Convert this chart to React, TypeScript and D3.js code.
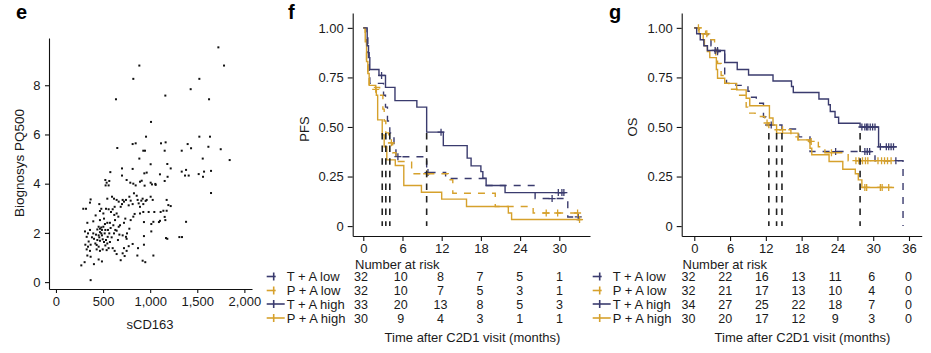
import React, { useEffect, useRef } from 'react';
import * as d3 from 'd3';

// panel e: sCD163 vs Biognosys PQ500
const scatterPoints: [number, number][] = [
  [1724, 9.54], [1784, 8.8], [885, 8.8], [821, 8.26], [1522, 8.26], [1430, 7.84], [1161, 7.58], [637, 7.43], [1625, 7.43],
  [1009, 6.51], [956, 5.91], [1522, 5.91], [1635, 5.91], [651, 5.45], [814, 5.61], [846, 5.64], [1115, 5.64], [1164, 5.68],
  [927, 5.34], [945, 5.34], [1154, 5.34], [1335, 5.34], [1398, 5.61], [1434, 5.44], [1618, 5.5], [1749, 5.4], [1558, 5.02],
  [1844, 4.96], [885, 5.02], [1005, 4.79], [1182, 4.8], [1218, 4.62], [701, 4.62], [814, 4.6], [577, 4.47], [963, 4.45],
  [938, 4.42], [1335, 4.49], [1381, 4.56], [1515, 4.39], [1572, 4.49], [1646, 4.52], [1104, 4.38], [1370, 4.33], [1409, 4.33],
  [1561, 4.28], [701, 4.33], [910, 4.12], [892, 4.08], [1005, 4.04], [1019, 3.97], [1055, 3.99], [1154, 4.11], [524, 4.15],
  [538, 4.04], [566, 4.11], [527, 3.93], [559, 3.93], [750, 4.15], [789, 4.04], [821, 4.0], [846, 3.93], [941, 3.92],
  [1058, 3.95], [1646, 3.62], [1185, 4.28],
  [368, 3.36], [361, 3.23], [290, 2.98], [319, 2.98], [460, 3.17], [545, 3.39], [595, 3.47], [616, 3.39], [644, 3.34],
  [666, 3.27], [708, 3.34], [722, 3.27], [743, 3.34], [779, 3.47], [793, 3.31], [828, 3.61], [857, 3.51], [867, 3.34],
  [878, 3.2], [906, 3.31], [920, 3.39], [963, 3.34], [1005, 3.47], [1027, 3.34], [1175, 3.34], [1193, 3.13], [1175, 2.9],
  [1218, 3.09], [1140, 2.9], [1111, 2.85], [927, 3.17], [892, 3.06], [814, 3.17], [772, 3.12], [701, 3.17], [687, 3.06],
  [623, 3.06], [559, 2.96], [531, 2.98], [481, 2.98], [467, 2.89], [584, 2.85], [602, 2.96], [619, 2.73], [644, 2.79],
  [662, 2.66], [503, 2.79], [421, 2.71], [510, 2.58], [467, 2.52], [396, 2.47], [333, 2.41], [453, 2.25], [439, 2.14],
  [481, 2.22], [520, 2.36], [545, 2.41], [573, 2.41], [627, 2.52], [666, 2.25], [680, 2.31], [722, 2.41], [736, 2.58],
  [793, 2.52], [821, 2.66], [835, 2.77], [892, 2.79], [927, 2.85], [984, 2.85], [1044, 2.85], [934, 2.44], [1012, 2.36],
  [1034, 2.45], [1104, 2.49], [1161, 2.52], [1154, 2.65], [1093, 2.44], [952, 3.3],
  [779, 2.17], [754, 1.98], [743, 1.84], [708, 1.9], [673, 1.93], [644, 2.09], [616, 1.98], [591, 1.82], [566, 1.98],
  [549, 1.84], [531, 1.71], [510, 1.63], [496, 1.74], [481, 1.98], [467, 2.03], [453, 1.9], [439, 1.71], [418, 1.57],
  [396, 1.98], [382, 1.82], [361, 2.12], [340, 1.98], [308, 2.06], [326, 1.84], [347, 1.65], [368, 1.52], [312, 1.52],
  [326, 1.33], [340, 1.44], [333, 1.08], [368, 1.03], [304, 0.81], [269, 0.68], [403, 0.73], [453, 0.92], [488, 0.84],
  [467, 1.68], [524, 1.49], [559, 1.38], [602, 1.38], [623, 1.27], [644, 1.14], [538, 1.3], [496, 1.33], [453, 1.44],
  [432, 1.51], [722, 1.38], [772, 1.46], [750, 1.76], [814, 1.55], [871, 1.38], [934, 1.52], [750, 1.27], [708, 1.17],
  [729, 1.06], [687, 0.89], [864, 1.08], [920, 0.87], [948, 0.81], [1034, 1.08], [934, 1.87], [1012, 2.06], [1168, 1.79],
  [1182, 1.76], [1310, 1.83], [1338, 1.83], [1381, 2.45], [368, 0.08],
  [404, 1.76], [425, 1.93], [460, 1.82], [488, 1.9], [517, 1.98], [524, 2.12], [488, 2.12], [467, 2.17], [503, 2.25],
  [552, 2.12], [580, 2.2], [609, 2.31], [630, 2.12], [658, 1.71], [573, 1.63], [545, 1.57], [432, 1.33], [467, 1.27], [361, 1.27],
];

const scatterXTicks = [0, 500, 1000, 1500, 2000];
const scatterYTicks = [0, 2, 4, 6, 8];

// panel f: PFS step curves (time in months, survival), last point = end of follow-up
const pfsTaLow: [number, number][] = [[0, 1], [0.4, 0.97], [0.7, 0.875], [0.9, 0.78], [1.0, 0.72], [3.1, 0.66], [3.4, 0.6], [3.7, 0.53], [4.06, 0.47], [4.7, 0.41], [5.0, 0.35], [9.7, 0.27], [12.6, 0.24], [18.6, 0.205], [26.3, 0.139], [31.3, 0.046], [33.0, 0.046]];
const pfsPaLow: [number, number][] = [[0, 1], [0.3, 0.94], [0.5, 0.84], [0.7, 0.75], [0.9, 0.7], [2.5, 0.66], [3.0, 0.59], [3.2, 0.53], [3.45, 0.47], [3.9, 0.42], [4.5, 0.37], [5.0, 0.326], [7.4, 0.264], [13.0, 0.234], [13.7, 0.166], [20.2, 0.099], [26.0, 0.066], [33.0, 0.066]];
const pfsTaHigh: [number, number][] = [[0, 1], [0.6, 0.91], [0.8, 0.85], [1.0, 0.79], [2.4, 0.76], [3.4, 0.7], [4.85, 0.633], [8.2, 0.6], [9.7, 0.474], [12.25, 0.406], [15.9, 0.343], [16.5, 0.304], [18.0, 0.275], [18.3, 0.242], [18.8, 0.205], [21.7, 0.169], [30.9, 0.169]];
const pfsPaHigh: [number, number][] = [[0, 1], [0.3, 0.93], [0.5, 0.83], [0.7, 0.77], [0.9, 0.71], [1.9, 0.69], [2.0, 0.66], [2.2, 0.536], [2.9, 0.46], [3.2, 0.4], [3.6, 0.334], [4.9, 0.306], [6.2, 0.205], [8.9, 0.171], [12.0, 0.136], [15.8, 0.099], [22.2, 0.066], [22.7, 0.033], [33.5, 0.033]];

const pfsTaLowCensor: [number, number][] = [[5.3, 0.35], [9.9, 0.27], [28.9, 0.139], [32.9, 0.046]];
const pfsPaLowCensor: [number, number][] = [[4.3, 0.42], [9.7, 0.264], [28.0, 0.066], [29.75, 0.066], [32.8, 0.066]];
const pfsTaHighCensor: [number, number][] = [[2.8, 0.76], [11.9, 0.474], [29.85, 0.169], [30.4, 0.169], [30.7, 0.169]];
const pfsPaHighCensor: [number, number][] = [[1.9, 0.69], [33.1, 0.033]];

const pfsMedians = [2.9, 3.45, 4.06, 9.7];

const pfsRiskTaLow = [32, 10, 8, 7, 5, 1];
const pfsRiskPaLow = [32, 10, 7, 5, 3, 1];
const pfsRiskTaHigh = [33, 20, 13, 8, 5, 3];
const pfsRiskPaHigh = [30, 9, 4, 3, 1, 1];

// panel g: OS
const osTaLow: [number, number][] = [[0, 1], [0.8, 0.97], [2.3, 0.94], [2.8, 0.91], [3.6, 0.88], [5.1, 0.76], [5.4, 0.72], [7.0, 0.71], [9.0, 0.68], [9.6, 0.65], [10.4, 0.62], [11.6, 0.55], [12.0, 0.51], [14.7, 0.49], [17.5, 0.45], [19.4, 0.376], [30.3, 0.33], [35.0, 0], [35.0, 0]];
const osPaLow: [number, number][] = [[0, 1], [1.9, 0.97], [2.2, 0.94], [3.4, 0.91], [3.6, 0.85], [3.9, 0.82], [4.5, 0.76], [5.1, 0.72], [5.8, 0.69], [7.6, 0.66], [8.7, 0.6], [9.0, 0.57], [10.2, 0.553], [11.8, 0.52], [12.5, 0.486], [16.2, 0.45], [17.4, 0.435], [19.2, 0.427], [20.8, 0.4], [21.9, 0.37], [25.8, 0.33], [33.9, 0.33]];
const osTaHigh: [number, number][] = [[0, 1], [0.4, 0.97], [1.0, 0.94], [1.6, 0.91], [2.2, 0.886], [5.1, 0.825], [7.2, 0.79], [9.1, 0.762], [13.2, 0.732], [16.3, 0.704], [16.6, 0.674], [20.9, 0.641], [22.5, 0.612], [22.8, 0.578], [23.6, 0.549], [24.2, 0.519], [27.8, 0.5], [30.9, 0.4], [33.9, 0.4]];
const osPaHigh: [number, number][] = [[0, 1], [0.8, 0.97], [1.5, 0.94], [1.7, 0.91], [2.2, 0.88], [2.6, 0.85], [3.7, 0.79], [3.9, 0.746], [5.1, 0.72], [7.1, 0.687], [8.7, 0.645], [9.3, 0.607], [12.6, 0.545], [13.2, 0.51], [13.8, 0.469], [17.4, 0.435], [19.4, 0.393], [19.7, 0.36], [22.6, 0.326], [24.9, 0.287], [27.0, 0.264], [27.5, 0.233], [28.1, 0.195], [33.5, 0.195]];

const osTaLowCensor: [number, number][] = [[3.9, 0.88], [12.9, 0.51], [23.7, 0.376], [28.6, 0.376], [29.0, 0.376], [29.4, 0.376], [33.8, 0.33]];
const osPaLowCensor: [number, number][] = [[2.1, 0.97], [12.2, 0.52], [14.8, 0.486], [19.6, 0.427], [23.0, 0.37], [27.1, 0.33], [27.6, 0.33], [28.2, 0.33], [28.7, 0.33], [29.1, 0.33], [30.8, 0.33], [31.4, 0.33], [31.9, 0.33], [32.4, 0.33], [33.0, 0.33]];
const osTaHighCensor: [number, number][] = [[3.5, 0.886], [3.9, 0.886], [28.1, 0.5], [28.6, 0.5], [28.9, 0.5], [29.1, 0.5], [29.5, 0.5], [29.9, 0.5], [30.3, 0.5], [31.2, 0.4], [32.2, 0.4], [32.6, 0.4], [33.0, 0.4], [33.4, 0.4]];
const osPaHighCensor: [number, number][] = [[0.7, 1], [28.6, 0.195], [28.9, 0.195], [31.2, 0.195], [31.5, 0.195], [32.6, 0.195]];

const osMedians = [12.5, 13.8, 14.7, 27.8];

const osRiskTaLow = [32, 22, 16, 13, 11, 6, 0];
const osRiskPaLow = [32, 21, 17, 13, 10, 4, 0];
const osRiskTaHigh = [34, 27, 25, 22, 18, 7, 0];
const osRiskPaHigh = [30, 20, 17, 12, 9, 3, 0];

const groupNames = ['T + A low', 'P + A low', 'T + A high', 'P + A high'];
const NAVY = '#3a3b6e';
const GOLD = '#d6a12c';
const groupColors = [NAVY, GOLD, NAVY, GOLD];
const groupDashed = [true, true, false, false];

const FONT = "'Liberation Sans', Arial, Helvetica, sans-serif";
const TXT = '#1a1a1a';

const styleAxis = (g: any) => {
  g.selectAll('path.domain').attr('stroke', '#111').attr('stroke-width', 1.1);
  g.selectAll('.tick line').attr('stroke', '#111').attr('stroke-width', 1.1);
  g.selectAll('.tick text').attr('fill', TXT).style('font-family', FONT).style('font-size', '13px');
};

const drawKm = (svg: any, cfg: any) => {
  const x = d3.scaleLinear().domain(cfg.xDomain).range(cfg.xRange);
  const y = d3.scaleLinear().domain([-0.05, 1.075]).range([236, 13]);
  const tx = d3.scaleLinear().domain([0, cfg.ticks[cfg.ticks.length - 1]]).range(cfg.tableRange);

  const gx = svg.append('g').attr('transform', 'translate(0,236)')
    .call(d3.axisBottom(x).tickValues(cfg.ticks).tickSize(5).tickSizeOuter(0).tickPadding(2.5));
  styleAxis(gx);
  const gy = svg.append('g').attr('transform', `translate(${cfg.xRange[0]},0)`)
    .call(d3.axisLeft(y).tickValues([0, 0.25, 0.5, 0.75, 1]).tickSize(5).tickSizeOuter(0).tickPadding(4)
      .tickFormat((d: any) => (d === 0 ? '0' : d3.format('.2f')(d))));
  styleAxis(gy);

  svg.append('text')
    .attr('transform', `translate(${cfg.yLabelX},${cfg.yLabelY}) rotate(-90)`)
    .attr('text-anchor', 'middle').attr('dy', '0.35em')
    .style('font-family', FONT).style('font-size', '13px').attr('fill', TXT)
    .text(cfg.yLabel);

  const line = d3.line<[number, number]>().x(d => x(d[0])).y(d => y(d[1])).curve(d3.curveStepAfter);

  const order = [0, 1, 3, 2];
  order.forEach(i => {
    svg.append('path').datum(cfg.curves[i])
      .attr('fill', 'none').attr('stroke', groupColors[i]).attr('stroke-width', 1.4)
      .attr('stroke-dasharray', groupDashed[i] ? '7,7' : null)
      .attr('d', line);
    svg.append('g').selectAll('path').data(cfg.censors[i]).enter().append('path')
      .attr('d', (d: [number, number]) => `M${x(d[0]) - 3.5},${y(d[1])}h7M${x(d[0])},${y(d[1]) - 3.5}v7`)
      .attr('stroke', groupColors[i]).attr('stroke-width', 1.3);
  });

  svg.append('g').selectAll('line').data(cfg.medians).enter().append('line')
    .attr('x1', (d: number) => x(d)).attr('x2', (d: number) => x(d))
    .attr('y1', y(0.5)).attr('y2', y(0))
    .attr('stroke', '#222').attr('stroke-width', 1.6).attr('stroke-dasharray', '0,6,6.5,0.1');

  // risk table
  const tfs = '12.5px';
  svg.append('text').attr('x', cfg.tableRange[0] - 6).attr('y', 268.5)
    .style('font-family', FONT).style('font-size', '13px').attr('fill', TXT).text('Number at risk');
  const rowY = [281, 295, 308.5, 322.5];
  cfg.risk.forEach((row: number[], i: number) => {
    svg.append('text').attr('x', cfg.labelX).attr('y', rowY[i])
      .style('font-family', FONT).style('font-size', '13px').attr('fill', TXT).text(groupNames[i]);
    const ky = rowY[i] - 4.5;
    const kx0 = cfg.labelX - 20;
    svg.append('line').attr('x1', kx0).attr('x2', kx0 + (groupDashed[i] ? 9 : 18)).attr('y1', ky).attr('y2', ky)
      .attr('stroke', groupColors[i]).attr('stroke-width', 1.6);
    svg.append('line').attr('x1', kx0 + 7).attr('x2', kx0 + 7).attr('y1', ky - 4).attr('y2', ky + 4)
      .attr('stroke', groupColors[i]).attr('stroke-width', 1.6);
    svg.append('g').selectAll('text').data(row).enter().append('text')
      .attr('x', (_: number, j: number) => tx(cfg.ticks[j])).attr('y', rowY[i])
      .attr('text-anchor', 'middle')
      .style('font-family', FONT).style('font-size', tfs).attr('fill', TXT)
      .text((d: number) => d);
  });
  svg.append('text').attr('x', cfg.titleX).attr('y', 341.5).attr('text-anchor', 'middle')
    .style('font-family', FONT).style('font-size', '13px').attr('fill', TXT)
    .text('Time after C2D1 visit (months)');

  svg.append('text').attr('x', cfg.panelX).attr('y', 19)
    .style('font-family', FONT).style('font-size', '20px').style('font-weight', 'bold').attr('fill', '#000')
    .text(cfg.panel);
};

export default function App() {
  const ref = useRef<SVGSVGElement>(null);

  useEffect(() => {
    const svg = d3.select(ref.current);
    svg.selectAll('*').remove();
    svg.append('rect').attr('width', 931).attr('height', 353).attr('fill', '#fff');

    // ---- panel e ----
    const x = d3.scaleLinear().domain([-74, 2081]).range([49, 252]);
    const y = d3.scaleLinear().domain([-0.28, 9.92]).range([289, 38]);

    svg.append('g').selectAll('rect').data(scatterPoints).enter().append('rect')
      .attr('x', d => x(d[0]) - 1).attr('y', d => y(d[1]) - 1)
      .attr('width', 2).attr('height', 2).attr('fill', '#111');

    const gx = svg.append('g').attr('transform', 'translate(0,289)')
      .call(d3.axisBottom(x).tickValues(scatterXTicks).tickSize(4).tickSizeOuter(0).tickPadding(4)
        .tickFormat(d3.format(',')));
    styleAxis(gx);
    const gy = svg.append('g').attr('transform', 'translate(49,0)')
      .call(d3.axisLeft(y).tickValues(scatterYTicks).tickSize(4).tickSizeOuter(0).tickPadding(4.5));
    styleAxis(gy);

    svg.append('text').attr('x', 150).attr('y', 329).attr('text-anchor', 'middle')
      .style('font-family', FONT).style('font-size', '13px').attr('fill', TXT).text('sCD163');
    svg.append('text').attr('transform', 'translate(19,163) rotate(-90)').attr('text-anchor', 'middle')
      .attr('dy', '0.35em').style('font-family', FONT).style('font-size', '13.5px').attr('fill', TXT)
      .text('Biognosys PQ500');
    svg.append('text').attr('x', 16).attr('y', 18.5)
      .style('font-family', FONT).style('font-size', '20px').style('font-weight', 'bold').attr('fill', '#000')
      .text('e');

    drawKm(svg, {
      xDomain: [-1.62, 34.7], xRange: [352.7, 590], ticks: [0, 6, 12, 18, 24, 30], tableRange: [361, 559.5],
      curves: [pfsTaLow, pfsPaLow, pfsTaHigh, pfsPaHigh],
      censors: [pfsTaLowCensor, pfsPaLowCensor, pfsTaHighCensor, pfsPaHighCensor],
      medians: pfsMedians,
      risk: [pfsRiskTaLow, pfsRiskPaLow, pfsRiskTaHigh, pfsRiskPaHigh],
      labelX: 286.7, yLabel: 'PFS', yLabelX: 304, yLabelY: 129, titleX: 472.5, panel: 'f', panelX: 288,
    });

    drawKm(svg, {
      xDomain: [-2.11, 38.13], xRange: [681.7, 921.7], ticks: [0, 6, 12, 18, 24, 30, 36], tableRange: [688.5, 908.5],
      curves: [osTaLow, osPaLow, osTaHigh, osPaHigh],
      censors: [osTaLowCensor, osPaLowCensor, osTaHighCensor, osPaHighCensor],
      medians: osMedians,
      risk: [osRiskTaLow, osRiskPaLow, osRiskTaHigh, osRiskPaHigh],
      labelX: 612.7, yLabel: 'OS', yLabelX: 632.5, yLabelY: 127, titleX: 802.5, panel: 'g', panelX: 609,
    });
  }, []);

  return (
    <svg ref={ref} width={931} height={353} style={{ position: 'absolute', left: 0, top: 0, display: 'block' }} />
  );
}
